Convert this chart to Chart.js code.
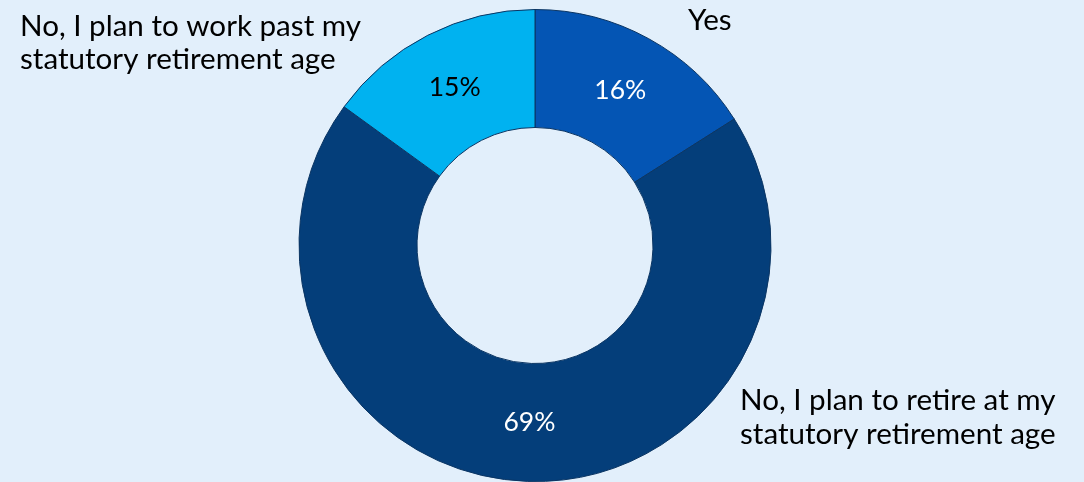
<!DOCTYPE html>
<html>
<head>
<meta charset="utf-8">
<script src="https://cdn.jsdelivr.net/npm/chart.js@4/dist/chart.umd.min.js"></script>
<style>
  html, body { margin: 0; padding: 0; background: #e2effb; }
  #wrap { width: 1084px; height: 482px; position: relative; }
</style>
</head>
<body>
<div id="wrap"><canvas id="c" width="1084" height="482"></canvas></div>
<script>
// 退職予定アンケート - ドーナツ
var labels  = ['Yes', 'No, I plan to retire at my statutory retirement age', 'No, I plan to work past my statutory retirement age'];
var values  = [16, 69, 15];
var colors  = ['#0455b4', '#043e7a', '#00b2f0'];
var pctText = ['#ffffff', '#ffffff', '#000000'];

var FONT = 'Lato, "Open Sans", sans-serif';

// 外側ラベル（ベースライン基準）
var outerLabels = [
  {lines: ['Yes'], x: 688, y: 30, lh: 0},
  {lines: ['No, I plan to retire at my', 'statutory retirement age'], x: 740, y: 410, lh: 34},
  {lines: ['No, I plan to work past my', 'statutory retirement age'], x: 20, y: 36, lh: 33}
];

var labelPlugin = {
  id: 'sliceLabels',
  afterDatasetsDraw: function(chart) {
    var ctx = chart.ctx;
    var meta = chart.getDatasetMeta(0);
    ctx.save();
    ctx.font = '26.5px ' + FONT;
    ctx.textAlign = 'center';
    ctx.textBaseline = 'middle';
    meta.data.forEach(function(arc, i) {
      var p = arc.tooltipPosition();
      ctx.fillStyle = pctText[i];
      ctx.fillText(values[i] + '%', p.x, p.y);
    });
    ctx.font = '29.6px ' + FONT;
    ctx.fillStyle = '#000000';
    ctx.textAlign = 'left';
    ctx.textBaseline = 'alphabetic';
    outerLabels.forEach(function(l) {
      l.lines.forEach(function(t, j) {
        ctx.fillText(t, l.x, l.y + j * l.lh);
      });
    });
    ctx.restore();
  }
};

new Chart(document.getElementById('c').getContext('2d'), {
  type: 'doughnut',
  data: {
    labels: labels,
    datasets: [{
      data: values,
      backgroundColor: colors,
      borderColor: '#0b3563',
      borderWidth: 1
    }]
  },
  options: {
    responsive: false,
    animation: false,
    cutout: '50%',
    layout: {padding: {top: 9, bottom: 0, left: 0, right: 14}},
    plugins: {
      legend: {display: false},
      tooltip: {enabled: false}
    }
  },
  plugins: [labelPlugin]
});
</script>
</body>
</html>
